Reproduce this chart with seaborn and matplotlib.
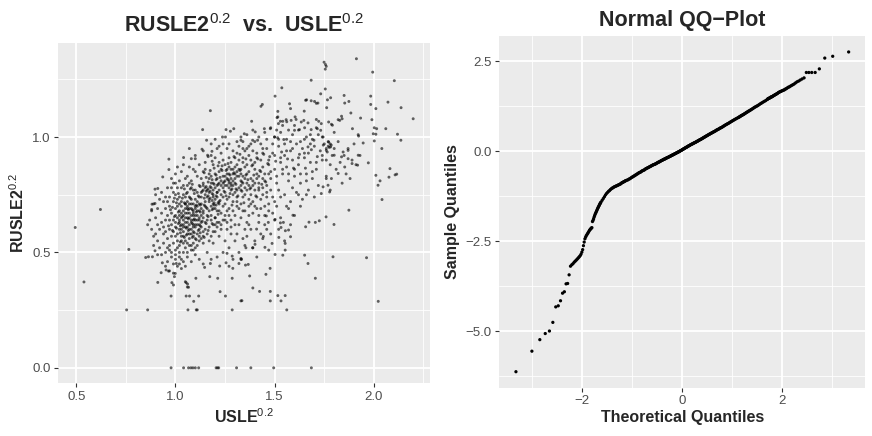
import matplotlib
matplotlib.use("Agg")
import matplotlib.pyplot as plt
import seaborn as sns
import pandas as pd
from statistics import NormalDist
from matplotlib.ticker import FixedLocator, FuncFormatter

# ---------------- scatter data: (USLE^0.2, RUSLE2^0.2) ----------------
core_pts = [
    (1.02,0.66),(1.05,0.71),(1.08,0.63),(1.11,0.68),(1.04,0.59),(1.07,0.74),(1.13,0.61),(1.00,0.69),(1.09,0.57),(1.15,0.72),
    (1.03,0.62),(1.06,0.67),(1.10,0.70),(0.99,0.64),(1.12,0.65),(1.05,0.55),(1.08,0.78),(1.14,0.68),(1.01,0.73),(1.07,0.60),
    (1.04,0.68),(1.09,0.64),(1.11,0.58),(1.02,0.71),(1.16,0.66),(1.06,0.63),(0.98,0.67),(1.13,0.74),(1.05,0.65),(1.10,0.61),
    (1.07,0.69),(1.03,0.57),(1.12,0.71),(1.08,0.66),(1.00,0.61),(1.15,0.63),(1.06,0.72),(1.04,0.75),(1.11,0.64),(1.09,0.68),
    (1.18,0.70),(1.02,0.63),(1.07,0.56),(1.13,0.66),(1.05,0.69),(0.97,0.70),(1.10,0.73),(1.08,0.60),(1.14,0.59),(1.03,0.67),
    (1.06,0.65),(1.12,0.62),(1.01,0.58),(1.09,0.71),(1.17,0.68),(1.04,0.64),(1.11,0.76),(1.07,0.62),(0.99,0.72),(1.15,0.70),
    (1.05,0.61),(1.10,0.66),(1.03,0.70),(1.13,0.69),(1.08,0.73),(1.06,0.58),(1.19,0.74),(1.02,0.68),(1.12,0.60),(1.09,0.62),
    (1.04,0.66),(1.16,0.64),(1.07,0.67),(1.00,0.66),(1.11,0.70),(1.05,0.74),(1.14,0.77),(1.08,0.69),(1.03,0.60),(1.10,0.64),
    (1.06,0.70),(1.13,0.63),(1.01,0.65),(1.09,0.59),(1.18,0.66),(1.04,0.62),(1.12,0.68),(1.07,0.71),(0.98,0.62),(1.15,0.75),
    (1.05,0.67),(1.11,0.62),(1.08,0.64),(1.02,0.74),(1.14,0.65),(1.06,0.61),(1.10,0.69),(1.03,0.65),(1.17,0.72),(1.09,0.66),
    (0.96,0.66),(1.00,0.57),(1.20,0.69),(1.21,0.76),(0.97,0.60),(1.19,0.62),(1.02,0.53),(1.05,0.52),(1.16,0.58),(1.22,0.72),
    (1.04,0.79),(1.07,0.80),(1.12,0.79),(1.18,0.78),(0.99,0.76),(1.01,0.78),(1.09,0.54),(1.13,0.56),(1.06,0.54),(0.98,0.57),
    (1.03,0.55),(1.08,0.51),(1.11,0.53),(1.15,0.60),(1.20,0.65),(1.22,0.68),(1.19,0.80),(0.97,0.74),(0.95,0.69),(1.00,0.75),
    (1.06,0.76),(1.10,0.77),(1.14,0.80),(1.17,0.61),(1.21,0.63),(1.02,0.60),(1.04,0.57),(1.08,0.58),(1.12,0.57),(0.99,0.59),
    (1.05,0.63),(1.07,0.65),(1.09,0.67),(1.11,0.66),(1.13,0.71),(1.03,0.72),(1.01,0.70),(1.06,0.69),(1.10,0.62),(1.08,0.71),
    (1.04,0.61),(1.12,0.64),(1.14,0.67),(1.02,0.64),(1.07,0.58),(1.09,0.61),(1.05,0.71),(1.11,0.72),(1.16,0.69),(1.00,0.63),
    (1.035,0.655),(1.065,0.685),(1.095,0.645),(1.125,0.675),(1.055,0.605),(1.085,0.625),(1.115,0.595),(1.045,0.715),(1.075,0.735),(1.105,0.705),
    (1.015,0.675),(1.025,0.615),(1.135,0.635),(1.145,0.705),(1.165,0.655),(1.175,0.735),(0.985,0.695),(0.995,0.655),(1.055,0.755),(1.095,0.755),
    (1.065,0.595),(1.085,0.565),(1.105,0.555),(1.025,0.585),(1.045,0.565),(1.125,0.615),(1.155,0.625),(1.185,0.685),(1.195,0.715),(1.205,0.745),
    (1.035,0.735),(1.075,0.775),(1.115,0.745),(1.135,0.765),(1.155,0.785),(1.005,0.715),(1.015,0.625),(1.065,0.645),(1.085,0.685),(1.105,0.675),
    (0.96,0.72),(0.97,0.64),(0.98,0.78),(1.00,0.80),(1.01,0.55),(1.03,0.78),(1.06,0.79),(1.09,0.77),(1.12,0.74),(1.15,0.78),
    (1.17,0.76),(1.19,0.71),(1.20,0.59),(1.18,0.57),(1.14,0.54),(1.10,0.56),(1.07,0.53),(1.04,0.54),(1.01,0.52),(0.99,0.54),
    (1.14,0.79),(1.17,0.82),(1.20,0.84),(1.23,0.81),(1.26,0.84),(1.29,0.81),(1.32,0.86),(1.15,0.86),(1.19,0.77),(1.22,0.85),
    (1.25,0.79),(1.28,0.86),(1.31,0.83),(1.13,0.76),(1.16,0.74),(1.18,0.83),(1.21,0.79),(1.24,0.83),(1.27,0.80),(1.33,0.77),
    (0.965,0.615),(0.975,0.685),(0.985,0.595),(1.005,0.605),(1.025,0.545),(1.055,0.575),(1.095,0.585),(1.125,0.585),(1.145,0.565),(1.165,0.595),
    (1.185,0.625),(1.215,0.665),(1.205,0.705),(1.185,0.755),(1.165,0.775),(1.125,0.785),(1.085,0.795),(1.045,0.775),(1.015,0.755),(0.995,0.735),
    (1.125,0.705),(1.155,0.695),(1.185,0.725),(1.215,0.715),(1.245,0.765),(1.275,0.755),(1.305,0.775),(1.335,0.805),(1.145,0.845),(1.235,0.875),
    (1.265,0.815),(1.295,0.845),(1.325,0.855),(1.355,0.835),(1.205,0.815),(1.175,0.765),(1.195,0.795),(1.225,0.825),(1.255,0.855),(1.285,0.775),
    (0.94,0.61),(0.95,0.74),(0.96,0.52),(0.98,0.50),(1.00,0.49),(1.02,0.48),(1.04,0.46),(1.06,0.50),(1.08,0.53),(1.10,0.52),
    (1.12,0.55),(1.14,0.57),(1.17,0.55),(1.19,0.59),(1.21,0.61),(1.23,0.62),(1.25,0.64),(1.27,0.66),(1.29,0.68),(1.31,0.70),
]

band_pts = [
    (1.18,0.80),(1.22,0.77),(1.25,0.83),(1.28,0.79),(1.31,0.85),(1.20,0.73),(1.24,0.70),(1.27,0.74),(1.30,0.76),(1.33,0.81),
    (1.36,0.84),(1.39,0.88),(1.42,0.80),(1.21,0.82),(1.23,0.86),(1.26,0.79),(1.29,0.72),(1.32,0.69),(1.35,0.78),(1.38,0.75),
    (1.17,0.84),(1.19,0.88),(1.24,0.90),(1.27,0.87),(1.30,0.91),(1.34,0.89),(1.37,0.92),(1.40,0.86),(1.43,0.90),(1.45,0.84),
    (1.21,0.68),(1.25,0.66),(1.28,0.64),(1.31,0.72),(1.34,0.74),(1.37,0.70),(1.40,0.77),(1.43,0.73),(1.16,0.77),(1.19,0.75),
    (1.22,0.80),(1.25,0.76),(1.27,0.81),(1.29,0.84),(1.32,0.78),(1.34,0.83),(1.36,0.80),(1.38,0.82),(1.41,0.84),(1.44,0.87),
    (1.20,0.78),(1.23,0.75),(1.26,0.73),(1.28,0.77),(1.30,0.82),(1.33,0.86),(1.35,0.87),(1.37,0.85),(1.39,0.79),(1.42,0.77),
    (1.185,0.815),(1.215,0.795),(1.245,0.805),(1.275,0.835),(1.305,0.795),(1.335,0.765),(1.365,0.815),(1.395,0.835),(1.425,0.855),(1.455,0.805),
    (1.195,0.705),(1.225,0.725),(1.255,0.745),(1.285,0.705),(1.315,0.745),(1.345,0.715),(1.375,0.775),(1.405,0.745),(1.435,0.795),(1.165,0.745),
    (1.23,0.93),(1.26,0.95),(1.29,0.94),(1.32,0.96),(1.35,0.94),(1.38,0.97),(1.41,0.93),(1.44,0.95),(1.31,0.98),(1.34,0.98),
    (1.22,0.63),(1.26,0.60),(1.30,0.62),(1.33,0.65),(1.36,0.63),(1.39,0.67),(1.42,0.66),(1.45,0.70),(1.28,0.58),(1.35,0.60),
    (1.24,0.80),(1.26,0.82),(1.28,0.82),(1.30,0.80),(1.32,0.83),(1.24,0.78),(1.27,0.78),(1.29,0.79),(1.31,0.77),(1.33,0.79),
    (1.21,0.76),(1.23,0.79),(1.25,0.81),(1.27,0.84),(1.29,0.86),(1.31,0.88),(1.33,0.84),(1.35,0.82),(1.37,0.79),(1.39,0.81),
    (1.41,0.82),(1.43,0.85),(1.40,0.89),(1.38,0.90),(1.36,0.88),(1.34,0.91),(1.32,0.90),(1.30,0.87),(1.28,0.89),(1.26,0.86),
    (1.25,0.71),(1.27,0.69),(1.29,0.75),(1.31,0.74),(1.33,0.71),(1.35,0.75),(1.37,0.73),(1.39,0.72),(1.41,0.74),(1.44,0.78),
    (1.205,0.835),(1.235,0.855),(1.265,0.885),(1.295,0.915),(1.325,0.925),(1.355,0.905),(1.385,0.875),(1.415,0.905),(1.445,0.925),(1.465,0.885),
    (1.175,0.785),(1.165,0.805),(1.155,0.765),(1.145,0.735),(1.155,0.825),(1.175,0.855),(1.195,0.865),(1.215,0.875),(1.185,0.895),(1.165,0.915),
    (1.23,0.67),(1.20,0.65),(1.18,0.64),(1.24,0.64),(1.26,0.68),(1.22,0.71),(1.19,0.69),(1.21,0.74),(1.24,0.74),(1.17,0.73),
    (1.28,0.80),(1.30,0.84),(1.34,0.80),(1.36,0.77),(1.38,0.78),(1.40,0.80),(1.42,0.83),(1.44,0.82),(1.46,0.79),(1.47,0.84),
    (1.30,0.66),(1.32,0.62),(1.34,0.68),(1.37,0.66),(1.40,0.70),(1.43,0.69),(1.46,0.74),(1.48,0.77),(1.47,0.71),(1.45,0.66),
    (1.27,0.91),(1.25,0.88),(1.22,0.89),(1.20,0.91),(1.18,0.92),(1.21,0.95),(1.24,0.97),(1.27,0.97),(1.36,0.95),(1.39,0.94),
]

upper_band_pts = [
    (1.31,0.93),(1.34,0.95),(1.37,0.96),(1.40,0.98),(1.43,0.97),(1.46,0.99),(1.49,0.97),(1.52,0.99),(1.55,0.97),(1.58,0.98),
    (1.33,1.00),(1.36,1.01),(1.39,1.03),(1.42,1.00),(1.45,1.02),(1.48,1.04),(1.51,1.03),(1.54,1.05),(1.57,1.03),(1.60,1.05),
    (1.41,0.91),(1.44,0.93),(1.47,0.90),(1.50,0.92),(1.53,0.91),(1.56,0.94),(1.59,0.95),(1.62,0.91),(1.65,0.93),(1.68,0.97),
    (1.63,0.98),(1.66,1.00),(1.69,0.99),(1.72,1.01),(1.75,0.97),(1.77,0.96),(1.76,0.95),(1.78,0.97),(1.74,0.92),(1.71,0.89),
    (1.42,0.78),(1.45,0.81),(1.48,0.85),(1.51,0.83),(1.54,0.86),(1.57,0.84),(1.60,0.86),(1.63,0.84),(1.66,0.81),(1.69,0.85),
    (1.35,0.68),(1.38,0.71),(1.41,0.69),(1.44,0.75),(1.47,0.68),(1.50,0.72),(1.53,0.74),(1.56,0.70),(1.59,0.78),(1.62,0.75),
]

upper_core_pts = [
    (1.176,1.114),(1.137,1.032),(1.157,0.986),(1.255,1.032),(1.277,1.025),(1.294,1.036),(1.237,1.0),(1.252,1.0),
    (1.134,0.947),(1.162,0.921),(1.184,0.938),(1.041,0.911),(1.08,0.906),(1.10,0.906),(0.967,0.904),(0.967,0.859),
    (0.936,0.827),(0.897,0.774),(0.911,0.777),(0.882,0.709),(0.897,0.712),(0.622,0.686),(0.88,0.686),
    (1.00,0.84),(1.03,0.85),(1.06,0.83),(1.09,0.86),(1.12,0.88),(1.14,0.85),(1.02,0.81),(1.05,0.82),(1.08,0.81),
    (1.11,0.83),(1.13,0.82),(0.98,0.82),(1.04,0.88),(1.07,0.87),(1.10,0.85),(1.15,0.89),(1.18,0.97),(1.20,0.99),
    (1.22,0.96),(1.14,0.94),(1.10,0.92),(1.07,0.95),(1.01,0.87),(0.99,0.80),(0.96,0.78),
]

left_edge_pts = [
    (0.88,0.68),(0.89,0.71),(0.90,0.65),(0.91,0.62),(0.90,0.58),(0.89,0.57),(0.91,0.55),(0.92,0.60),(0.93,0.67),(0.94,0.72),
    (0.93,0.76),(0.95,0.64),(0.94,0.58),(0.92,0.52),(0.93,0.49),(0.95,0.50),(0.94,0.54),(0.96,0.56),(0.97,0.51),(0.98,0.48),
    (0.96,0.46),(0.99,0.45),(1.00,0.47),(1.01,0.44),(1.02,0.45),(1.03,0.47),(1.02,0.50),(1.00,0.51),(0.97,0.53),(0.95,0.59),
    (0.93,0.63),(0.91,0.69),(0.92,0.73),(0.90,0.75),(0.87,0.64),(0.86,0.62),(0.88,0.60),(0.89,0.53),(0.91,0.49),(0.95,0.44),
    (0.97,0.42),(0.99,0.41),(1.03,0.43),(1.05,0.44),(1.06,0.48),(1.04,0.50),(1.08,0.46),(1.10,0.49),(1.12,0.47),(1.09,0.51),
    (1.05,0.373),(1.06,0.35),
]

right_band_pts = [
    (1.46,0.95),(1.49,0.93),(1.52,0.96),(1.55,0.92),(1.58,0.94),(1.61,0.97),(1.64,0.95),(1.67,0.93),(1.70,0.96),(1.73,0.94),
    (1.47,0.88),(1.50,0.86),(1.53,0.89),(1.56,0.87),(1.59,0.90),(1.62,0.88),(1.65,0.91),(1.68,0.89),(1.71,0.86),(1.74,0.90),
    (1.48,0.82),(1.51,0.80),(1.54,0.84),(1.57,0.81),(1.60,0.83),(1.63,0.80),(1.66,0.84),(1.69,0.82),(1.72,0.79),(1.76,0.83),
    (1.50,1.00),(1.53,1.02),(1.56,0.99),(1.59,1.01),(1.62,1.03),(1.65,0.99),(1.68,1.01),(1.71,1.04),(1.74,1.00),(1.77,0.98),
    (1.46,0.76),(1.49,0.74),(1.52,0.77),(1.55,0.75),(1.58,0.72),(1.61,0.76),(1.64,0.73),(1.67,0.77),(1.70,0.74),(1.78,0.77),
    (1.475,0.915),(1.505,0.895),(1.535,0.935),(1.565,0.905),(1.595,0.865),(1.625,0.925),(1.655,0.865),(1.685,0.945),(1.715,0.915),(1.745,0.965),
    (1.765,0.935),(1.775,0.955),(1.785,0.965),(1.76,0.90),(1.79,0.92),(1.80,0.95),(1.78,0.88),(1.81,0.86),(1.83,0.89),(1.85,0.92),
    (1.87,0.95),(1.89,0.90),(1.86,0.84),(1.84,0.80),(1.88,0.82),(1.91,0.88),(1.93,0.92),(1.90,0.97),(1.82,0.98),(1.80,1.02),
]

upper_right_pts = [
    (1.912,1.339),(1.749,1.324),(1.756,1.314),(1.760,1.306),(1.755,1.294),(1.994,1.281),(2.103,1.244),(1.684,1.246),
    (1.536,1.213),(1.755,1.208),(1.732,1.187),(1.502,1.177),(1.850,1.18),(1.984,1.177),(1.766,1.161),(1.782,1.170),
    (1.656,1.159),(1.661,1.161),(1.684,1.157),(1.701,1.154),(1.710,1.146),(1.718,1.147),(1.853,1.147),(1.874,1.154),
    (2.071,1.151),(1.575,1.144),(1.58,1.123),(1.431,1.133),(1.438,1.141),(1.984,1.141),(2.01,1.123),(2.137,1.127),
    (1.762,1.127),(1.649,1.112),(1.516,1.111),(1.884,1.104),(1.837,1.09),(1.84,1.079),(1.933,1.082),(2.198,1.079),
    (1.512,1.084),(1.529,1.068),(1.541,1.068),(1.558,1.075),(1.561,1.066),(1.603,1.087),(1.608,1.076),(1.634,1.065),
    (1.647,1.072),(1.668,1.061),(1.71,1.076),(1.722,1.068),(1.735,1.058),(1.772,1.065),(1.786,1.055),(1.791,1.051),
    (1.828,1.072),(1.82,1.075),(1.99,1.075),(2.002,1.04),(2.014,1.036),(2.06,1.036),(1.384,1.068),(2.119,1.012),
    (2.136,0.986),(1.892,1.036),(1.921,1.01),(1.923,1.004),(1.997,1.014),(2.01,1.012),(2.002,0.983),(1.946,0.974),
    (2.04,0.95),(1.972,0.888),(2.081,0.863),(2.107,0.836),(2.115,0.839),(2.076,0.826),(2.01,0.834),(2.031,0.81),
    (2.021,0.791),(2.041,0.729),(1.874,0.683),(1.347,1.014),(1.33,0.986),(1.389,0.986),(1.414,0.986),(1.402,1.022),
    (1.448,1.036),(1.478,1.036),(1.499,1.0),(1.515,0.997),(1.546,0.989),(1.519,1.058),(1.516,1.087),(1.583,1.072),
    (1.60,1.029),(1.625,1.032),(1.651,1.04),(1.684,1.032),(1.715,1.036),(1.732,1.029),(1.744,1.0),(1.772,0.978),
    (1.76,0.942),(1.782,0.957),(1.698,0.986),(1.668,0.957),(1.845,0.935),(1.87,0.942),(1.8,0.921),(1.837,0.914),
    (1.87,0.906),(1.921,0.921),(1.918,0.878),(1.89,0.885),(1.853,0.87),(1.82,0.842),(1.786,0.82),(1.76,0.82),
    (1.769,0.791),(1.744,0.784),(1.777,0.762),(1.735,0.755),
]

lower_pts = [
    (0.495,0.608),(0.539,0.372),(0.765,0.513),(0.754,0.251),(0.86,0.251),(0.85,0.478),(0.864,0.481),(0.884,0.481),
    (0.897,0.507),(0.911,0.37),(0.928,0.412),(0.934,0.455),(0.953,0.424),(0.965,0.419),(0.978,0.311),(0.982,0.369),
    (0.99,0.359),(0.995,0.395),(0.999,0.409),(1.004,0.452),(1.054,0.369),(1.061,0.363),(1.066,0.349),(1.054,0.311),
    (1.071,0.311),(1.092,0.288),(1.117,0.311),(1.103,0.388),(1.063,0.251),(1.105,0.251),(1.11,0.251),(1.286,0.251),
    (1.225,0.33),(1.252,0.311),(1.335,0.291),(1.173,0.395),(1.213,0.388),(1.286,0.388),(1.147,0.435),(1.176,0.452),
    (1.223,0.441),(1.255,0.455),(1.289,0.431),(1.32,0.452),(1.333,0.47),(1.353,0.445),(1.26,0.496),(1.286,0.484),
    (1.33,0.474),(1.367,0.448),(1.374,0.398),(1.39,0.346),(1.424,0.331),(1.478,0.331),(1.33,0.29),(1.478,0.29),
    (1.532,0.29),(1.516,0.313),(1.553,0.313),(1.561,0.251),(1.456,0.405),(1.477,0.431),(1.502,0.491),(1.541,0.488),
    (1.553,0.51),(1.651,0.488),(1.668,0.452),(1.705,0.388),(1.794,0.481),(1.963,0.477),(2.022,0.288),
    (1.355,0.52),(1.389,0.52),(1.401,0.535),(1.451,0.522),(1.487,0.539),(1.521,0.565),(1.553,0.539),(1.58,0.568),
    (1.554,0.594),(1.57,0.597),(1.532,0.608),(1.529,0.628),(1.544,0.63),(1.592,0.661),(1.502,0.643),(1.468,0.63),
    (1.443,0.569),(1.409,0.601),(1.458,0.658),(1.656,0.611),(1.673,0.631),(1.705,0.63),(1.725,0.637),(1.759,0.654),
    (1.799,0.621),
    (1.58,0.62),(1.60,0.66),(1.55,0.55),(1.52,0.60),(1.57,0.69),(1.63,0.70),(1.66,0.75),(1.48,0.58),(1.50,0.64),(1.45,0.62),
    (1.43,0.58),(1.40,0.55),(1.38,0.60),(1.36,0.57),(1.47,0.51),(1.41,0.48),(1.35,0.53),(1.30,0.55),(1.27,0.52),(1.25,0.55),
    (1.22,0.57),(1.19,0.54),(1.16,0.50),(1.18,0.47),(1.14,0.45),(1.21,0.48),(1.24,0.50),(1.32,0.50),(1.29,0.47),(1.27,0.44),
    (1.28,0.61),(1.31,0.58),(1.34,0.56),(1.37,0.62),(1.42,0.63),(1.44,0.56),(1.46,0.60),(1.49,0.67),(1.51,0.70),(1.53,0.65),
    (1.23,0.60),(1.20,0.62),(1.26,0.63),(1.39,0.52),(1.33,0.47),
]

zero_pts = [
    (0.978,0.0),(1.041,0.0),(1.066,0.0),(1.078,0.0),(1.088,0.0),(1.10,0.0),(1.117,0.0),(1.205,0.0),
    (1.212,0.0),(1.218,0.0),(1.308,0.0),(1.38,0.0),(1.495,0.0),(1.685,0.0),
]

# ---------------- QQ data: sorted sample quantiles, by rank ----------------
qq_n = 1150
qq_lower_tail = [  # ranks 1..60
    -6.12,-5.55,-5.23,-5.06,-4.99,-4.75,-4.32,-4.29,-4.15,-3.94,
    -3.90,-3.68,-3.67,-3.43,-3.19,-3.15,-3.12,-3.08,-3.05,-3.02,
    -2.99,-2.96,-2.93,-2.90,-2.86,-2.80,-2.73,-2.62,-2.52,-2.43,
    -2.38,-2.34,-2.31,-2.28,-2.25,-2.22,-2.19,-2.17,-2.15,-2.13,
    -2.12,-1.95,-1.92,-1.88,-1.83,-1.79,-1.75,-1.72,-1.69,-1.66,
    -1.63,-1.60,-1.57,-1.55,-1.52,-1.50,-1.47,-1.45,-1.43,-1.41,
]
qq_lower_mid = [  # ranks 63..150, every 3rd
    -1.36,-1.31,-1.26,-1.21,-1.17,-1.14,-1.11,-1.09,-1.06,-1.04,
    -1.02,-1.01,-0.99,-0.98,-0.97,-0.96,-0.95,-0.94,-0.93,-0.92,
    -0.91,-0.90,-0.88,-0.87,-0.86,-0.85,-0.84,-0.83,-0.82,-0.81,
]
qq_middle = [  # ranks 155..1000, every 5th
    -0.80,-0.79,-0.77,-0.76,-0.74,-0.72,-0.71,-0.69,-0.68,-0.66,
    -0.65,-0.63,-0.62,-0.60,-0.59,-0.58,-0.57,-0.55,-0.54,-0.53,
    -0.52,-0.51,-0.49,-0.48,-0.47,-0.46,-0.45,-0.44,-0.43,-0.42,
    -0.41,-0.40,-0.39,-0.38,-0.37,-0.365,-0.36,-0.35,-0.34,-0.33,
    -0.32,-0.31,-0.30,-0.295,-0.285,-0.275,-0.265,-0.255,-0.25,-0.24,
    -0.23,-0.22,-0.215,-0.21,-0.20,-0.19,-0.18,-0.175,-0.17,-0.16,
    -0.15,-0.145,-0.135,-0.13,-0.12,-0.11,-0.105,-0.095,-0.09,-0.08,
    -0.07,-0.065,-0.055,-0.05,-0.04,-0.03,-0.025,-0.015,-0.01,0.00,
    0.01,0.02,0.025,0.035,0.045,0.055,0.065,0.07,0.08,0.09,
    0.10,0.11,0.115,0.125,0.135,0.145,0.155,0.16,0.17,0.18,
    0.19,0.195,0.205,0.21,0.22,0.23,0.235,0.245,0.25,0.26,
    0.27,0.28,0.285,0.295,0.305,0.315,0.325,0.33,0.34,0.35,
    0.36,0.37,0.38,0.39,0.40,0.41,0.42,0.43,0.44,0.45,
    0.46,0.47,0.48,0.49,0.50,0.51,0.52,0.53,0.54,0.55,
    0.56,0.57,0.585,0.595,0.605,0.615,0.625,0.64,0.65,0.66,
    0.67,0.685,0.70,0.71,0.725,0.74,0.75,0.765,0.775,0.79,
    0.805,0.82,0.835,0.85,0.865,0.88,0.895,0.91,0.925,0.94,
]
qq_upper_mid = [  # ranks 1003..1099, every 3rd
    0.95,0.96,0.97,0.985,0.995,1.005,1.015,1.025,
    1.04,1.05,1.065,1.08,1.09,1.105,1.12,1.13,
    1.145,1.16,1.175,1.19,1.21,1.225,1.24,1.255,1.27,
    1.29,1.31,1.33,1.35,1.37,1.39,1.41,1.44,
]
qq_upper_tail = [  # ranks 1100..1150
    1.45,1.46,1.47,1.47,1.48,1.49,1.50,1.51,1.51,1.52,1.53,
    1.54,1.55,1.56,1.57,1.58,1.59,1.60,1.61,1.63,1.64,
    1.65,1.66,1.67,1.68,1.69,1.70,1.71,1.73,1.74,1.76,
    1.78,1.79,1.81,1.83,1.85,1.87,1.90,1.93,1.95,1.98,
    2.01,2.04,2.19,2.19,2.19,2.19,2.29,2.59,2.64,2.76,
]
qq_segments = [qq_lower_tail, qq_lower_mid, qq_middle, qq_upper_mid, qq_upper_tail]
qq_seg_start = [1, 63, 155, 1003, 1100]
qq_seg_step = [1, 3, 5, 3, 1]

# ticks
left_xticks = [0.5, 1.0, 1.5, 2.0]
left_xminor = [0.75, 1.25, 1.75, 2.25]
left_yticks = [0.0, 0.5, 1.0]
left_yminor = [0.25, 0.75, 1.25]
right_xticks = [-2, 0, 2]
right_xminor = [-3, -1, 1, 3]
right_yticks = [-5.0, -2.5, 0.0, 2.5]
right_yminor = [-6.25, -3.75, -1.25, 1.25]

# ---------------- build frames ----------------
all_pts = (core_pts + band_pts + upper_band_pts + upper_core_pts + left_edge_pts
           + right_band_pts + upper_right_pts + lower_pts + zero_pts)
df_sc = pd.DataFrame(all_pts, columns=["usle", "rusle2"])

nd = NormalDist()
theo, samp = [], []
for seg, st, stp in zip(qq_segments, qq_seg_start, qq_seg_step):
    for k, v in enumerate(seg):
        r = st + k * stp
        theo.append(nd.inv_cdf((r - 0.5) / qq_n))
        samp.append(v)
df_qq = pd.DataFrame({"theoretical": theo, "sample": samp})

# ---------------- style ----------------
sns.set_theme(style="darkgrid")
plt.rcParams.update({
    "font.family": ["Liberation Sans", "DejaVu Sans"],
    "mathtext.fontset": "custom",
    "mathtext.rm": "Liberation Sans",
    "mathtext.bf": "Liberation Sans:bold",
    "mathtext.it": "Liberation Sans:italic",
    "axes.facecolor": "#EBEBEB",
    "figure.facecolor": "white",
    "grid.color": "white",
    "axes.edgecolor": "#EBEBEB",
})

fig = plt.figure(figsize=(8.72, 4.36), dpi=100)
ax1 = fig.add_axes([0.0669, 0.1209, 0.4263, 0.7798])
ax2 = fig.add_axes([0.5726, 0.1108, 0.4197, 0.8067])

sns.scatterplot(data=df_sc, x="usle", y="rusle2", ax=ax1, s=4.5, color="black",
                alpha=0.6, linewidth=0, edgecolor="none")
sns.scatterplot(data=df_qq, x="theoretical", y="sample", ax=ax2, s=5.5, color="black",
                linewidth=0, edgecolor="none")

def expand(vals):
    lo, hi = min(vals), max(vals)
    pad = (hi - lo) * 0.05
    return lo - pad, hi + pad

ax1.set_xlim(*expand(df_sc["usle"]))
ax1.set_ylim(*expand(df_sc["rusle2"]))
ax2.set_xlim(*expand(df_qq["theoretical"]))
ax2.set_ylim(*expand(df_qq["sample"]))

def minus_fmt(fmt):
    return FuncFormatter(lambda v, p: (fmt % v).replace("-", "\u2212"))

for ax, xt, xm, yt, ym, xf, yf in [
    (ax1, left_xticks, left_xminor, left_yticks, left_yminor, "%.1f", "%.1f"),
    (ax2, right_xticks, right_xminor, right_yticks, right_yminor, "%d", "%.1f"),
]:
    ax.xaxis.set_major_locator(FixedLocator(xt))
    ax.xaxis.set_minor_locator(FixedLocator(xm))
    ax.yaxis.set_major_locator(FixedLocator(yt))
    ax.yaxis.set_minor_locator(FixedLocator(ym))
    ax.xaxis.set_major_formatter(minus_fmt(xf))
    ax.yaxis.set_major_formatter(minus_fmt(yf))
    ax.grid(which="major", color="white", linewidth=1.3)
    ax.grid(which="minor", color="white", linewidth=0.6)
    ax.tick_params(which="major", length=3, width=0.8, color="#333333",
                   labelcolor="#4D4D4D", labelsize=9.5, pad=2.5, bottom=True, left=True)
    ax.tick_params(which="minor", length=0)
    for s in ax.spines.values():
        s.set_visible(False)
    ax.set_axisbelow(True)

ax1.set_xlabel(r"$\mathbf{USLE}^{0.2}$", fontsize=11.5, labelpad=3)
ax1.set_ylabel(r"$\mathbf{RUSLE2}^{0.2}$", fontsize=11.5, labelpad=4)
ax1.set_title(r"$\mathbf{RUSLE2}^{0.2}$  vs.  $\mathbf{USLE}^{0.2}$",
              fontsize=15.5, fontweight="bold", pad=8)

ax2.set_xlabel("Theoretical Quantiles", fontsize=11.5, fontweight="bold", labelpad=2)
ax2.set_ylabel("Sample Quantiles", fontsize=11.5, fontweight="bold", labelpad=4)
ax2.set_title("Normal QQ\u2212Plot", fontsize=15.5, fontweight="bold", pad=7)

fig.savefig("out.png", dpi=100)
